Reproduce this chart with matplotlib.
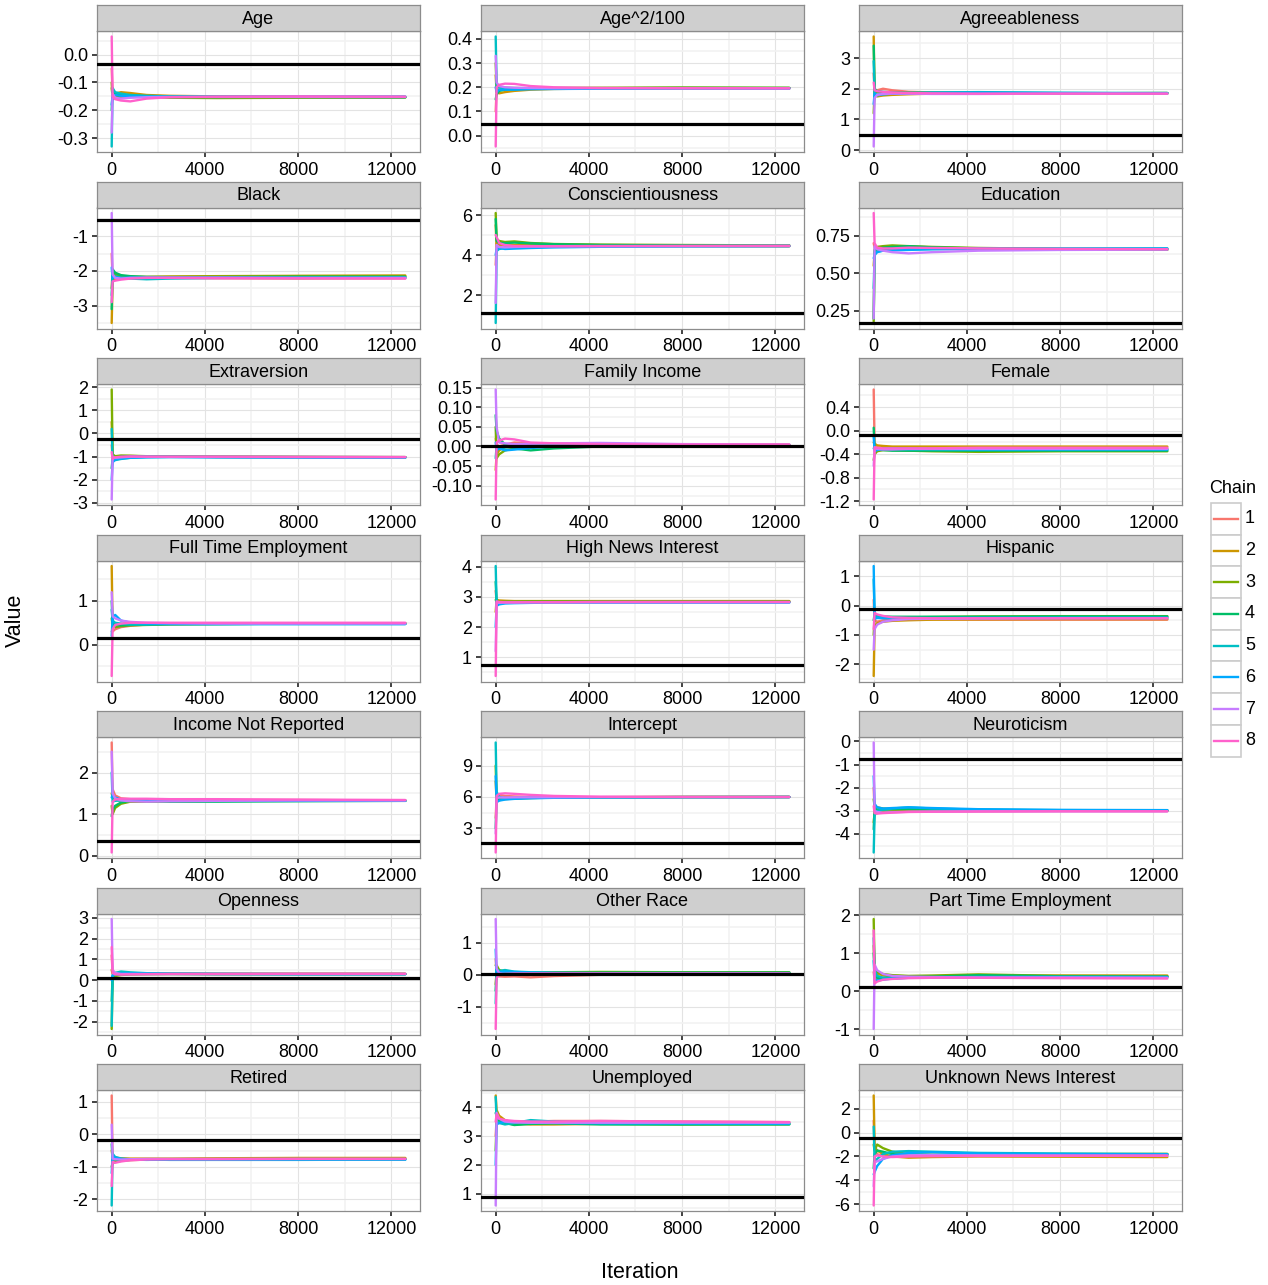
import matplotlib
matplotlib.use('Agg')
import matplotlib.pyplot as plt
from matplotlib.ticker import FixedLocator, FixedFormatter
from matplotlib.patches import Rectangle

plt.rcParams['font.family'] = ['Liberation Sans', 'DejaVu Sans']

# ---------------- data ----------------
iterations = [1, 40, 150, 400, 800, 1500, 2500, 4500, 8000, 12600]
chains = ['1', '2', '3', '4', '5', '6', '7', '8']
chain_colors = ['#F8766D', '#CD9600', '#7CAE00', '#00BE67',
                '#00BFC4', '#00A9FF', '#C77CFF', '#FF61CC']

panel_names = ['Age', 'Age^2/100', 'Agreeableness',
               'Black', 'Conscientiousness', 'Education',
               'Extraversion', 'Family Income', 'Female',
               'Full Time Employment', 'High News Interest', 'Hispanic',
               'Income Not Reported', 'Intercept', 'Neuroticism',
               'Openness', 'Other Race', 'Part Time Employment',
               'Retired', 'Unemployed', 'Unknown News Interest']

hline_values = [-0.035, 0.05, 0.48,
                -0.52, 1.12, 0.17,
                -0.22, 0.002, -0.07,
                0.16, 0.76, -0.1,
                0.35, 1.6, -0.75,
                0.1, 0.03, 0.1,
                -0.16, 0.88, -0.45]

y_ticks = [[-0.3, -0.2, -0.1, 0.0], [0.0, 0.1, 0.2, 0.3, 0.4], [0, 1, 2, 3],
           [-3, -2, -1], [2, 4, 6], [0.25, 0.5, 0.75],
           [-3, -2, -1, 0, 1, 2], [-0.10, -0.05, 0.0, 0.05, 0.10, 0.15], [-1.2, -0.8, -0.4, 0.0, 0.4],
           [0, 1], [1, 2, 3, 4], [-2, -1, 0, 1],
           [0, 1, 2], [3, 6, 9], [-4, -3, -2, -1, 0],
           [-2, -1, 0, 1, 2, 3], [-1, 0, 1], [-1, 0, 1, 2],
           [-2, -1, 0, 1], [1, 2, 3, 4], [-6, -4, -2, 0, 2]]

y_tick_labels = [['-0.3', '-0.2', '-0.1', '0.0'], ['0.0', '0.1', '0.2', '0.3', '0.4'], ['0', '1', '2', '3'],
                 ['-3', '-2', '-1'], ['2', '4', '6'], ['0.25', '0.50', '0.75'],
                 ['-3', '-2', '-1', '0', '1', '2'], ['-0.10', '-0.05', '0.00', '0.05', '0.10', '0.15'],
                 ['-1.2', '-0.8', '-0.4', '0.0', '0.4'],
                 ['0', '1'], ['1', '2', '3', '4'], ['-2', '-1', '0', '1'],
                 ['0', '1', '2'], ['3', '6', '9'], ['-4', '-3', '-2', '-1', '0'],
                 ['-2', '-1', '0', '1', '2', '3'], ['-1', '0', '1'], ['-1', '0', '1', '2'],
                 ['-2', '-1', '0', '1'], ['1', '2', '3', '4'], ['-6', '-4', '-2', '0', '2']]

x_ticks = [0, 4000, 8000, 12000]
x_tick_labels = ['0', '4000', '8000', '12000']

age = [
    [-0.05, -0.14, -0.15, -0.155, -0.152, -0.150, -0.151, -0.152, -0.153, -0.153],
    [-0.12, -0.15, -0.14, -0.135, -0.138, -0.145, -0.148, -0.150, -0.152, -0.152],
    [-0.10, -0.16, -0.155, -0.15, -0.148, -0.152, -0.155, -0.156, -0.155, -0.154],
    [-0.20, -0.13, -0.14, -0.145, -0.147, -0.150, -0.151, -0.152, -0.152, -0.153],
    [-0.33, -0.12, -0.135, -0.14, -0.145, -0.148, -0.150, -0.151, -0.152, -0.152],
    [-0.18, -0.15, -0.145, -0.148, -0.150, -0.151, -0.152, -0.152, -0.151, -0.151],
    [-0.28, -0.14, -0.155, -0.158, -0.155, -0.153, -0.152, -0.152, -0.152, -0.152],
    [0.065, -0.15, -0.16, -0.165, -0.168, -0.158, -0.153, -0.151, -0.150, -0.151]]
age_sq = [
    [0.10, 0.19, 0.19, 0.195, 0.196, 0.196, 0.195, 0.196, 0.197, 0.196],
    [0.25, 0.18, 0.175, 0.18, 0.185, 0.19, 0.193, 0.195, 0.196, 0.195],
    [0.30, 0.20, 0.20, 0.198, 0.197, 0.196, 0.197, 0.198, 0.199, 0.198],
    [0.15, 0.17, 0.185, 0.19, 0.192, 0.194, 0.195, 0.196, 0.197, 0.197],
    [0.41, 0.21, 0.20, 0.195, 0.193, 0.194, 0.195, 0.195, 0.196, 0.196],
    [0.20, 0.18, 0.19, 0.19, 0.19, 0.192, 0.193, 0.194, 0.195, 0.195],
    [0.33, 0.22, 0.205, 0.20, 0.198, 0.197, 0.196, 0.196, 0.196, 0.195],
    [-0.045, 0.20, 0.21, 0.215, 0.214, 0.205, 0.200, 0.197, 0.196, 0.196]]
agreeableness = [
    [2.5, 1.9, 1.95, 2.0, 1.95, 1.90, 1.88, 1.86, 1.85, 1.85],
    [3.7, 1.8, 1.75, 1.78, 1.80, 1.82, 1.84, 1.85, 1.84, 1.84],
    [1.2, 1.9, 1.88, 1.87, 1.86, 1.86, 1.87, 1.86, 1.85, 1.86],
    [3.4, 2.0, 1.92, 1.9, 1.88, 1.87, 1.86, 1.85, 1.85, 1.86],
    [2.9, 1.75, 1.78, 1.82, 1.84, 1.86, 1.88, 1.89, 1.87, 1.86],
    [1.5, 1.85, 1.8, 1.82, 1.84, 1.85, 1.86, 1.87, 1.86, 1.85],
    [0.12, 1.7, 1.8, 1.83, 1.84, 1.84, 1.83, 1.83, 1.84, 1.84],
    [2.2, 1.95, 1.92, 1.9, 1.88, 1.86, 1.85, 1.84, 1.84, 1.84]]
black = [
    [-1.5, -2.2, -2.25, -2.22, -2.2, -2.19, -2.2, -2.21, -2.22, -2.21],
    [-3.5, -2.3, -2.2, -2.18, -2.17, -2.17, -2.16, -2.15, -2.14, -2.13],
    [-2.5, -2.0, -2.1, -2.15, -2.17, -2.18, -2.17, -2.16, -2.15, -2.15],
    [-3.1, -1.95, -2.05, -2.12, -2.15, -2.17, -2.18, -2.18, -2.17, -2.17],
    [-2.7, -2.1, -2.15, -2.2, -2.22, -2.24, -2.22, -2.2, -2.19, -2.18],
    [-1.9, -2.2, -2.18, -2.2, -2.19, -2.2, -2.2, -2.2, -2.2, -2.2],
    [-0.33, -2.1, -2.2, -2.22, -2.2, -2.19, -2.19, -2.19, -2.2, -2.2],
    [-2.9, -2.3, -2.28, -2.25, -2.22, -2.2, -2.2, -2.21, -2.21, -2.22]]
conscientiousness = [
    [3.5, 4.6, 4.5, 4.45, 4.46, 4.47, 4.48, 4.47, 4.46, 4.45],
    [5.5, 4.4, 4.5, 4.55, 4.5, 4.48, 4.47, 4.46, 4.45, 4.44],
    [6.1, 4.8, 4.7, 4.65, 4.68, 4.6, 4.55, 4.52, 4.5, 4.48],
    [5.8, 4.7, 4.6, 4.6, 4.62, 4.58, 4.54, 4.5, 4.48, 4.47],
    [0.6, 4.2, 4.3, 4.35, 4.38, 4.4, 4.42, 4.43, 4.44, 4.45],
    [4.0, 4.3, 4.35, 4.3, 4.32, 4.35, 4.38, 4.41, 4.43, 4.44],
    [1.6, 4.5, 4.4, 4.38, 4.4, 4.42, 4.43, 4.44, 4.45, 4.46],
    [5.0, 4.9, 4.6, 4.5, 4.45, 4.44, 4.44, 4.45, 4.45, 4.45]]
education = [
    [0.70, 0.67, 0.66, 0.665, 0.67, 0.668, 0.665, 0.662, 0.66, 0.658],
    [0.55, 0.64, 0.65, 0.66, 0.668, 0.67, 0.668, 0.664, 0.66, 0.656],
    [0.18, 0.66, 0.675, 0.68, 0.685, 0.68, 0.675, 0.668, 0.662, 0.66],
    [0.20, 0.65, 0.66, 0.67, 0.675, 0.68, 0.672, 0.665, 0.66, 0.658],
    [0.40, 0.63, 0.645, 0.65, 0.655, 0.658, 0.66, 0.662, 0.664, 0.665],
    [0.60, 0.62, 0.64, 0.65, 0.652, 0.655, 0.66, 0.662, 0.663, 0.664],
    [0.20, 0.68, 0.66, 0.65, 0.64, 0.632, 0.64, 0.65, 0.655, 0.657],
    [0.90, 0.70, 0.67, 0.665, 0.665, 0.67, 0.668, 0.665, 0.662, 0.66]]
extraversion = [
    [-0.5, -1.05, -1.0, -0.98, -0.97, -0.99, -1.0, -1.01, -1.01, -1.02],
    [0.5, -0.95, -1.0, -1.02, -1.0, -0.99, -1.0, -1.01, -1.02, -1.02],
    [1.9, -0.9, -0.98, -0.95, -0.96, -0.98, -1.0, -1.01, -1.02, -1.03],
    [-1.5, -1.1, -1.05, -1.0, -0.98, -0.98, -0.99, -1.0, -1.01, -1.02],
    [0.2, -1.2, -1.15, -1.1, -1.05, -1.02, -1.01, -1.02, -1.03, -1.04],
    [-2.0, -1.25, -1.12, -1.08, -1.05, -1.03, -1.02, -1.03, -1.04, -1.04],
    [-2.85, -1.0, -1.05, -1.03, -1.0, -1.0, -1.01, -1.01, -1.02, -1.02],
    [-0.8, -1.1, -1.03, -1.0, -0.99, -1.0, -1.0, -1.0, -1.01, -1.02]]
family_income = [
    [0.02, 0.005, 0.0, 0.005, 0.01, 0.008, 0.006, 0.005, 0.005, 0.004],
    [-0.06, -0.02, -0.01, 0.0, 0.003, 0.004, 0.005, 0.005, 0.004, 0.004],
    [0.05, -0.03, -0.02, -0.01, -0.005, 0.0, 0.002, 0.003, 0.004, 0.004],
    [0.08, 0.04, 0.02, 0.005, -0.005, -0.01, -0.005, 0.0, 0.002, 0.003],
    [-0.03, 0.0, -0.005, -0.003, 0.0, 0.002, 0.003, 0.003, 0.003, 0.003],
    [0.01, -0.01, -0.005, -0.01, -0.008, -0.004, 0.0, 0.002, 0.003, 0.003],
    [0.145, 0.05, 0.01, 0.008, 0.006, 0.007, 0.008, 0.009, 0.006, 0.005],
    [-0.135, 0.01, 0.015, 0.02, 0.018, 0.01, 0.008, 0.006, 0.005, 0.005]]
female = [
    [0.70, -0.25, -0.28, -0.3, -0.3, -0.3, -0.3, -0.3, -0.3, -0.3],
    [-0.2, -0.22, -0.25, -0.26, -0.27, -0.27, -0.27, -0.27, -0.27, -0.27],
    [-0.5, -0.4, -0.35, -0.33, -0.33, -0.34, -0.35, -0.36, -0.35, -0.35],
    [0.05, -0.3, -0.32, -0.33, -0.34, -0.34, -0.34, -0.34, -0.34, -0.34],
    [-0.3, -0.32, -0.3, -0.3, -0.31, -0.32, -0.32, -0.32, -0.32, -0.32],
    [-0.1, -0.35, -0.33, -0.31, -0.3, -0.3, -0.31, -0.32, -0.32, -0.32],
    [-0.6, -0.3, -0.31, -0.32, -0.32, -0.31, -0.31, -0.31, -0.31, -0.31],
    [-1.17, -0.28, -0.29, -0.3, -0.3, -0.3, -0.3, -0.29, -0.29, -0.29]]
full_time = [
    [0.3, 0.3, 0.35, 0.4, 0.43, 0.46, 0.48, 0.49, 0.49, 0.49],
    [1.8, 0.4, 0.42, 0.44, 0.46, 0.47, 0.48, 0.49, 0.49, 0.49],
    [0.6, 0.45, 0.4, 0.42, 0.44, 0.45, 0.46, 0.47, 0.48, 0.48],
    [1.0, 0.5, 0.45, 0.44, 0.45, 0.46, 0.47, 0.47, 0.48, 0.48],
    [0.8, 0.55, 0.5, 0.48, 0.46, 0.46, 0.47, 0.47, 0.47, 0.47],
    [0.2, 0.6, 0.68, 0.55, 0.5, 0.48, 0.47, 0.47, 0.47, 0.47],
    [1.2, 0.65, 0.6, 0.55, 0.52, 0.5, 0.49, 0.48, 0.48, 0.48],
    [-0.72, 0.35, 0.45, 0.48, 0.5, 0.5, 0.5, 0.5, 0.5, 0.5]]
high_news = [
    [3.2, 2.85, 2.85, 2.84, 2.84, 2.85, 2.85, 2.84, 2.84, 2.84],
    [2.5, 2.9, 2.88, 2.87, 2.86, 2.86, 2.86, 2.86, 2.86, 2.86],
    [2.9, 2.85, 2.84, 2.83, 2.83, 2.84, 2.84, 2.84, 2.84, 2.84],
    [3.5, 2.8, 2.82, 2.83, 2.83, 2.83, 2.83, 2.83, 2.83, 2.83],
    [4.02, 2.75, 2.78, 2.8, 2.81, 2.81, 2.82, 2.82, 2.82, 2.82],
    [2.0, 2.7, 2.75, 2.78, 2.79, 2.8, 2.81, 2.81, 2.81, 2.81],
    [1.2, 2.8, 2.8, 2.81, 2.81, 2.82, 2.82, 2.82, 2.82, 2.82],
    [0.38, 2.85, 2.83, 2.82, 2.82, 2.82, 2.82, 2.83, 2.83, 2.83]]
hispanic = [
    [0.2, -0.5, -0.55, -0.5, -0.48, -0.47, -0.47, -0.48, -0.48, -0.48],
    [-2.4, -0.7, -0.6, -0.55, -0.52, -0.5, -0.48, -0.47, -0.46, -0.46],
    [-1.0, -0.4, -0.38, -0.4, -0.41, -0.4, -0.39, -0.37, -0.36, -0.36],
    [-0.5, -0.3, -0.35, -0.37, -0.38, -0.38, -0.38, -0.38, -0.37, -0.37],
    [0.9, -0.35, -0.38, -0.4, -0.41, -0.42, -0.42, -0.42, -0.41, -0.41],
    [1.35, -0.45, -0.42, -0.43, -0.44, -0.44, -0.43, -0.42, -0.42, -0.42],
    [-1.5, -0.8, -0.65, -0.55, -0.5, -0.46, -0.45, -0.44, -0.43, -0.43],
    [-0.8, -0.25, -0.3, -0.35, -0.4, -0.42, -0.43, -0.43, -0.43, -0.43]]
income_not_reported = [
    [2.72, 1.6, 1.45, 1.38, 1.36, 1.35, 1.34, 1.34, 1.34, 1.33],
    [1.5, 1.4, 1.35, 1.32, 1.3, 1.31, 1.32, 1.33, 1.33, 1.33],
    [1.2, 1.0, 1.15, 1.25, 1.3, 1.3, 1.31, 1.32, 1.32, 1.32],
    [0.95, 1.1, 1.2, 1.28, 1.32, 1.32, 1.3, 1.3, 1.31, 1.32],
    [2.0, 1.3, 1.32, 1.33, 1.33, 1.33, 1.33, 1.33, 1.33, 1.32],
    [1.4, 1.45, 1.4, 1.35, 1.33, 1.32, 1.32, 1.32, 1.32, 1.32],
    [2.5, 1.5, 1.38, 1.33, 1.31, 1.3, 1.31, 1.32, 1.33, 1.33],
    [0.08, 1.3, 1.35, 1.37, 1.37, 1.37, 1.36, 1.36, 1.35, 1.34]]
intercept = [
    [4.0, 6.0, 6.2, 6.1, 6.05, 6.0, 5.98, 5.98, 5.99, 6.0],
    [7.5, 5.6, 5.7, 5.8, 5.85, 5.9, 5.95, 5.98, 6.0, 6.0],
    [9.0, 5.8, 5.85, 5.9, 5.92, 5.94, 5.96, 5.98, 6.0, 6.0],
    [3.0, 5.7, 5.8, 5.85, 5.9, 5.93, 5.95, 5.97, 5.99, 6.0],
    [11.2, 6.5, 6.0, 5.9, 5.88, 5.9, 5.93, 5.96, 5.99, 6.0],
    [8.0, 5.5, 5.65, 5.75, 5.82, 5.88, 5.92, 5.96, 5.98, 5.99],
    [2.5, 5.9, 5.95, 5.95, 5.97, 5.97, 5.98, 5.99, 6.0, 6.0],
    [0.7, 6.1, 6.3, 6.35, 6.3, 6.2, 6.1, 6.03, 6.0, 6.0]]
neuroticism = [
    [-2.0, -3.0, -3.05, -3.05, -3.03, -3.02, -3.02, -3.02, -3.01, -3.01],
    [-3.5, -3.1, -3.1, -3.05, -3.02, -3.0, -3.0, -3.0, -3.0, -3.0],
    [-2.5, -2.8, -2.85, -2.9, -2.92, -2.93, -2.95, -2.97, -2.98, -2.99],
    [-3.8, -2.9, -2.95, -2.95, -2.93, -2.92, -2.94, -2.96, -2.98, -2.99],
    [-4.8, -3.2, -3.0, -2.95, -2.9, -2.85, -2.9, -2.95, -2.97, -2.98],
    [-1.5, -2.7, -2.85, -2.9, -2.88, -2.85, -2.88, -2.93, -2.96, -2.97],
    [-0.05, -3.0, -3.05, -3.08, -3.06, -3.04, -3.03, -3.02, -3.02, -3.02],
    [-2.8, -3.1, -3.12, -3.1, -3.08, -3.05, -3.04, -3.03, -3.02, -3.02]]
openness = [
    [1.2, 0.4, 0.32, 0.3, 0.3, 0.31, 0.31, 0.31, 0.31, 0.31],
    [0.5, 0.3, 0.35, 0.35, 0.33, 0.32, 0.31, 0.3, 0.3, 0.3],
    [-2.35, 0.1, 0.2, 0.25, 0.28, 0.29, 0.3, 0.3, 0.3, 0.3],
    [-1.0, 0.2, 0.25, 0.28, 0.3, 0.3, 0.3, 0.29, 0.29, 0.29],
    [-2.2, 0.2, 0.35, 0.42, 0.38, 0.34, 0.32, 0.31, 0.3, 0.3],
    [0.0, 0.25, 0.3, 0.33, 0.33, 0.32, 0.31, 0.3, 0.29, 0.29],
    [2.95, 0.5, 0.35, 0.3, 0.3, 0.3, 0.3, 0.3, 0.3, 0.3],
    [1.6, 0.35, 0.28, 0.27, 0.28, 0.29, 0.3, 0.3, 0.31, 0.31]]
other_race = [
    [0.5, 0.0, -0.05, -0.06, -0.05, -0.08, -0.04, 0.0, 0.02, 0.03],
    [-0.3, 0.1, 0.05, 0.03, 0.04, 0.05, 0.05, 0.06, 0.06, 0.06],
    [0.3, 0.3, 0.15, 0.1, 0.08, 0.07, 0.08, 0.09, 0.08, 0.08],
    [-0.5, 0.2, 0.12, 0.08, 0.06, 0.06, 0.06, 0.07, 0.07, 0.07],
    [-0.9, 0.15, 0.12, 0.15, 0.1, 0.08, 0.06, 0.05, 0.05, 0.05],
    [0.8, 0.05, 0.08, 0.1, 0.09, 0.07, 0.06, 0.05, 0.05, 0.05],
    [1.75, 0.2, 0.05, 0.02, 0.02, 0.03, 0.03, 0.03, 0.03, 0.03],
    [-1.7, -0.1, 0.0, 0.03, 0.04, 0.04, 0.04, 0.04, 0.04, 0.04]]
part_time = [
    [0.5, 0.3, 0.32, 0.35, 0.37, 0.38, 0.38, 0.39, 0.39, 0.39],
    [1.2, 0.5, 0.45, 0.42, 0.4, 0.39, 0.39, 0.4, 0.41, 0.41],
    [1.9, 0.6, 0.5, 0.45, 0.42, 0.4, 0.41, 0.44, 0.4, 0.39],
    [1.0, 0.4, 0.35, 0.35, 0.36, 0.37, 0.38, 0.42, 0.39, 0.38],
    [1.4, 0.55, 0.4, 0.35, 0.34, 0.35, 0.36, 0.37, 0.37, 0.37],
    [0.8, 0.3, 0.28, 0.3, 0.33, 0.35, 0.36, 0.37, 0.37, 0.37],
    [-1.0, 0.7, 0.55, 0.45, 0.4, 0.38, 0.37, 0.36, 0.36, 0.35],
    [1.6, 0.2, 0.25, 0.3, 0.32, 0.34, 0.35, 0.35, 0.34, 0.33]]
retired = [
    [1.2, -0.8, -0.85, -0.82, -0.8, -0.78, -0.77, -0.76, -0.75, -0.75],
    [-0.5, -0.7, -0.72, -0.74, -0.75, -0.75, -0.75, -0.74, -0.73, -0.73],
    [-1.0, -0.9, -0.85, -0.8, -0.78, -0.77, -0.77, -0.77, -0.76, -0.76],
    [-0.3, -0.75, -0.78, -0.8, -0.79, -0.78, -0.77, -0.77, -0.77, -0.77],
    [-2.2, -0.6, -0.7, -0.75, -0.77, -0.78, -0.79, -0.79, -0.79, -0.78],
    [-1.2, -0.65, -0.72, -0.76, -0.78, -0.79, -0.78, -0.78, -0.78, -0.78],
    [0.3, -0.75, -0.77, -0.78, -0.77, -0.76, -0.76, -0.76, -0.76, -0.76],
    [-1.6, -0.85, -0.88, -0.84, -0.8, -0.78, -0.77, -0.77, -0.76, -0.76]]
unemployed = [
    [3.0, 3.6, 3.55, 3.5, 3.5, 3.5, 3.52, 3.52, 3.5, 3.48],
    [4.4, 3.9, 3.7, 3.55, 3.45, 3.4, 3.4, 3.42, 3.44, 3.45],
    [2.5, 3.6, 3.5, 3.45, 3.4, 3.42, 3.45, 3.42, 3.4, 3.41],
    [3.8, 3.7, 3.55, 3.45, 3.38, 3.42, 3.44, 3.4, 3.4, 3.4],
    [4.35, 3.5, 3.45, 3.4, 3.45, 3.55, 3.5, 3.45, 3.43, 3.42],
    [2.0, 3.4, 3.45, 3.5, 3.48, 3.46, 3.45, 3.44, 3.44, 3.43],
    [0.6, 3.8, 3.6, 3.5, 3.47, 3.46, 3.46, 3.46, 3.46, 3.46],
    [3.5, 3.75, 3.6, 3.55, 3.52, 3.5, 3.5, 3.52, 3.5, 3.48]]
unknown_news = [
    [1.0, -1.5, -1.8, -2.0, -2.0, -1.95, -1.95, -1.95, -1.93, -1.9],
    [3.1, -1.2, -1.5, -1.8, -2.0, -2.1, -2.05, -2.0, -2.02, -2.05],
    [-1.0, -1.5, -1.0, -1.3, -1.6, -1.8, -1.85, -1.85, -1.8, -1.78],
    [-3.0, -1.8, -1.5, -1.6, -1.8, -1.9, -1.9, -1.88, -1.85, -1.83],
    [0.5, -2.5, -2.2, -1.8, -1.6, -1.55, -1.6, -1.7, -1.75, -1.8],
    [-3.5, -3.3, -2.8, -2.2, -1.9, -1.7, -1.65, -1.75, -1.8, -1.82],
    [-4.5, -2.5, -2.4, -2.2, -2.0, -1.9, -1.88, -1.9, -1.92, -1.94],
    [-6.1, -2.0, -1.9, -2.0, -2.05, -2.0, -1.98, -1.96, -1.94, -1.92]]

panel_values = [age, age_sq, agreeableness,
                black, conscientiousness, education,
                extraversion, family_income, female,
                full_time, high_news, hispanic,
                income_not_reported, intercept, neuroticism,
                openness, other_race, part_time,
                retired, unemployed, unknown_news]

# ---------------- layout ----------------
W, H = 1268, 1285
fig = plt.figure(figsize=(W / 100, H / 100), dpi=100)
fig.patch.set_facecolor('white')

col_left = [97, 481, 859]
panel_w = 323
panel_h = 121
row_top0 = 31
row_step = 176.5
strip_h = 26

FS = 13


def minor_from(ticks):
    if len(ticks) < 2:
        return []
    step = ticks[1] - ticks[0]
    mids = [t + step / 2 for t in ticks[:-1]]
    return [ticks[0] - step / 2] + mids + [ticks[-1] + step / 2]


xmin_d, xmax_d = min(iterations), max(iterations)
xpad = 0.05 * (xmax_d - xmin_d)
xlim = (xmin_d - xpad, xmax_d + xpad)

for k, name in enumerate(panel_names):
    r, c = divmod(k, 3)
    top = row_top0 + r * row_step
    left = col_left[c]
    ax = fig.add_axes([left / W, 1 - (top + panel_h) / H, panel_w / W, panel_h / H])
    vals = panel_values[k]
    allv = [v for ch in vals for v in ch] + [hline_values[k]]
    lo, hi = min(allv), max(allv)
    pad = 0.05 * (hi - lo)
    ax.set_xlim(*xlim)
    ax.set_ylim(lo - pad, hi + pad)

    for ci, ch in enumerate(vals):
        ax.plot(iterations, ch, color=chain_colors[ci], lw=1.7, zorder=2 + ci * 0.01,
                solid_joinstyle='round', solid_capstyle='round')
    ax.axhline(hline_values[k], color='black', lw=2.3, zorder=4)

    ax.yaxis.set_major_locator(FixedLocator(y_ticks[k]))
    ax.yaxis.set_major_formatter(FixedFormatter(y_tick_labels[k]))
    ax.yaxis.set_minor_locator(FixedLocator(minor_from(y_ticks[k])))
    ax.xaxis.set_major_locator(FixedLocator(x_ticks))
    ax.xaxis.set_major_formatter(FixedFormatter(x_tick_labels))
    ax.xaxis.set_minor_locator(FixedLocator(minor_from(x_ticks)))
    ax.set_axisbelow(True)
    ax.grid(True, which='minor', color='#F2F2F2', lw=1.2)
    ax.grid(True, which='major', color='#E3E3E3', lw=0.8)
    ax.tick_params(axis='x', which='major', pad=3.5)
    ax.tick_params(axis='y', which='major', pad=3)
    ax.tick_params(which='major', direction='out', length=3.5, width=1.2,
                   color='#222222', labelsize=FS, labelcolor='#000000')
    ax.tick_params(which='minor', length=0)
    for sp in ax.spines.values():
        sp.set_color('#8C8C8C')
        sp.set_linewidth(0.9)

    sax = fig.add_axes([left / W, 1 - top / H, panel_w / W, strip_h / H])
    sax.set_facecolor('#CFCFCF')
    sax.set_xticks([])
    sax.set_yticks([])
    for sp in sax.spines.values():
        sp.set_color('#8C8C8C')
        sp.set_linewidth(0.9)
    sax.text(0.5, 0.45, name, ha='center', va='center', fontsize=FS,
             color='#000000', transform=sax.transAxes)

# axis titles
fig.text(15 / W, 1 - 620 / H, 'Value', rotation=90, ha='center', va='center', fontsize=15.5)
fig.text(640 / W, 1 - 1272 / H, 'Iteration', ha='center', va='center', fontsize=15.5)

# legend (drawn in pixel coordinates)
lax = fig.add_axes([1195 / W, 1 - 775 / H, 73 / W, 305 / H])
lax.set_xlim(1195, 1268)
lax.set_ylim(775, 470)
lax.axis('off')
lax.text(1209, 489, 'Chain', ha='left', va='center', fontsize=FS)
key_h = 31.7
for i, lab in enumerate(chains):
    y0 = 503 + i * key_h
    lax.add_patch(Rectangle((1211, y0), 30, key_h, facecolor='white',
                            edgecolor='#CCCCCC', lw=1.2))
    lax.plot([1214, 1238], [y0 + key_h / 2, y0 + key_h / 2], color=chain_colors[i], lw=1.7)
    lax.text(1245, y0 + key_h / 2, lab, ha='left', va='center', fontsize=FS)

fig.savefig('out.png', dpi=100)
